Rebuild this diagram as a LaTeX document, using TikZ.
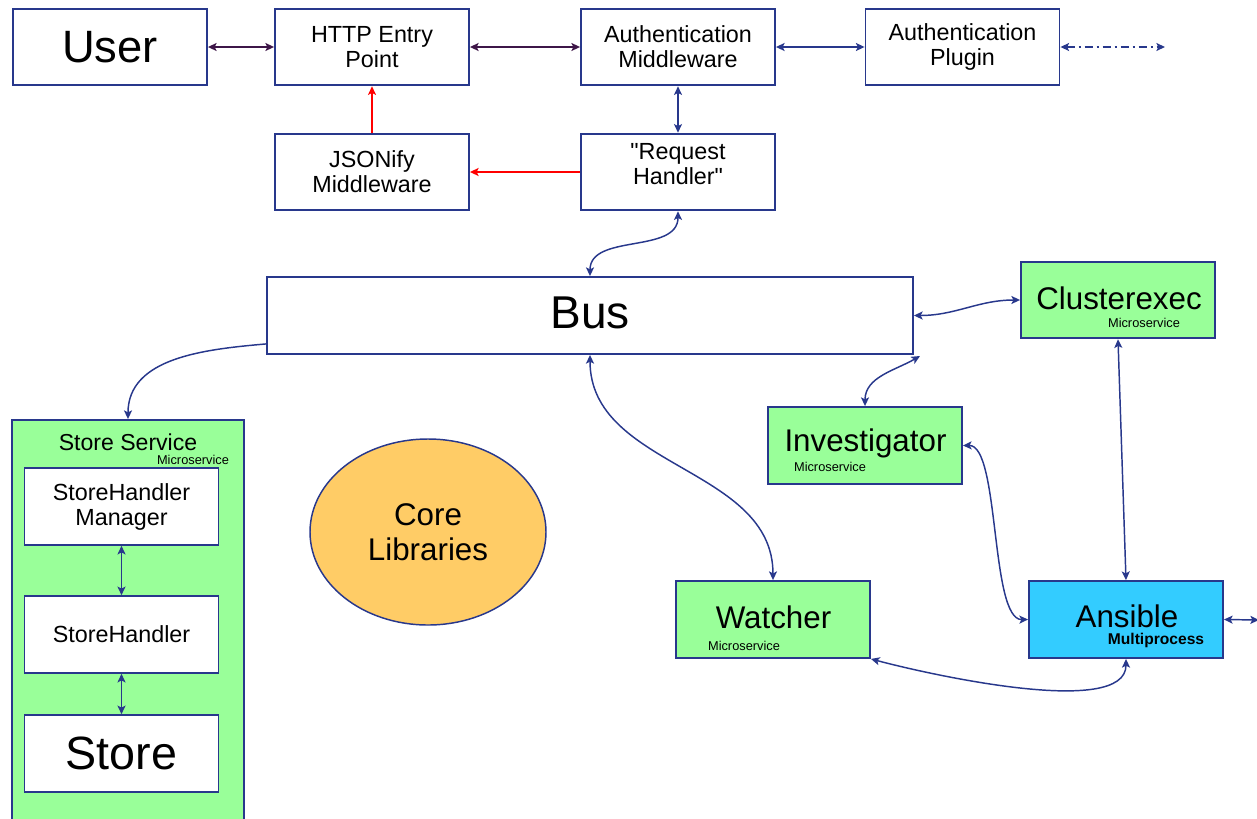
\documentclass[tikz,border=0pt]{standalone}
\usepackage{fontspec}
\setmainfont{Liberation Sans}[Ligatures=TeXOff]
\usetikzlibrary{arrows.meta,shapes.geometric,calc}
\definecolor{navy}{RGB}{40,56,140}
\definecolor{purp}{RGB}{62,22,72}
\definecolor{gfill}{RGB}{153,255,153}
\definecolor{cfill}{RGB}{51,204,255}
\definecolor{ofill}{RGB}{255,204,102}
\begin{document}
\begin{tikzpicture}[x=0.75pt,y=0.75pt,
  >={Stealth[length=6.5pt,width=6pt,inset=1.5pt]},
  box/.style={draw=navy,line width=1.4pt,fill=white,minimum width=145.5pt,minimum height=57.5pt,inner sep=0pt,align=center,font=\fontsize{17.5}{18.75}\selectfont},
  gbox/.style={box,fill=gfill,font=\fontsize{23.5}{28}\selectfont},
  micro/.style={inner sep=0pt,font=\fontsize{9.6}{11}\selectfont},
  conn/.style={navy,line width=1.1pt,<->},
  pconn/.style={purp,line width=1.1pt,<->},
  rconn/.style={red,line width=1.1pt,->},
  conn1/.style={navy,line width=1.1pt,->}]
\useasboundingbox (0,0) rectangle (1257,-818);
\clip (0,0) rectangle (1257,-818);
% top row
\node[box,font=\fontsize{34}{40}\selectfont] (user) at (110,-47) {User};
\node[box] (http) at (372,-47) {HTTP Entry\\Point};
\node[box] (amw) at (678,-47) {Authentication\\Middleware};
\node[box] (apl) at (962.5,-47) {Authentication\\Plugin};
\node[box] (json) at (372,-172) {JSONify\\Middleware};
\node[box] (rh) at (678,-172) {};
\node[inner sep=0pt,align=center,font=\fontsize{17.5}{18.75}\selectfont] (rht) at (678,-164) {"Request\\Handler"};
% bus
\node[box,minimum width=484.5pt,minimum height=57.75pt] (bus) at (590,-315.5) {};
\node[inner sep=0pt,font=\fontsize{34.5}{40}\selectfont] (bust) at (590,-313) {Bus};
% store service
\node[draw=navy,line width=1.4pt,fill=gfill,minimum width=174pt,minimum height=307.5pt,inner sep=0pt] (ss) at (128,-625) {};
\node[inner sep=0pt,font=\fontsize{17.3}{20}\selectfont] (sst) at (128,-442) {Store Service};
\node[micro] (ssm) at (193,-459.5) {Microservice};
\node[box] (shm) at (121.5,-506.5) {StoreHandler\\Manager};
\node[box] (sh) at (121.5,-634.5) {StoreHandler};
\node[box,font=\fontsize{35}{40}\selectfont] (store) at (121.5,-753.5) {Store};
% core
\node[ellipse,draw=navy,line width=1.1pt,fill=ofill,minimum width=177pt,minimum height=139.5pt,inner sep=0pt,align=center,font=\fontsize{23.5}{26}\selectfont] (core) at (428,-532) {Core\\Libraries};
% microservices
\node[gbox] (clex) at (1118,-300) {};
\node[inner sep=0pt,font=\fontsize{23.5}{28}\selectfont] (clext) at (1119,-298) {Clusterexec};
\node[micro] (clexm) at (1144,-323) {Microservice};
\node[gbox,minimum height=57.75pt] (inv) at (865,-445.5) {};
\node[inner sep=0pt,font=\fontsize{23.5}{28}\selectfont] (invt) at (865.5,-443) {Investigator};
\node[micro] (invm) at (830,-467) {Microservice};
\node[gbox,minimum height=57.75pt] (watch) at (773,-619.5) {};
\node[inner sep=0pt,font=\fontsize{23.5}{28}\selectfont] (watcht) at (773.5,-617) {Watcher};
\node[micro] (watchm) at (744,-646) {Microservice};
\node[gbox,fill=cfill,minimum height=57.75pt] (ans) at (1126,-619.5) {};
\node[inner sep=0pt,font=\fontsize{23.5}{28}\selectfont] (anst) at (1127,-616) {Ansible};
\node[inner sep=0pt,font=\bfseries\fontsize{11.7}{13}\selectfont] (ansm) at (1156,-640) {Multiprocess};
% connectors
\draw[pconn] (user.east) -- (http.west);
\draw[pconn] (http.east) -- (amw.west);
\draw[conn] (amw.east) -- (apl.west);
\coordinate (plout) at (1165,-47);
\draw[conn,dash pattern=on 6pt off 3pt on 1.5pt off 3pt] (apl.east) -- (plout);
\draw[conn] (amw.south) -- (rh.north);
\draw[rconn] (rh.west) -- (json.east);
\draw[rconn] (json.north) -- (http.south);
\draw[conn] (rh.south) to[out=-90,in=90] (bus.north);
\coordinate (bl) at ($(bus.south west)+(0,11)$);
\draw[conn1] (bl) to[out=185,in=90] (ss.north);
\draw[conn] (bus.east) to[out=0,in=180] (clex.west);
\coordinate (bc) at (920,-356);
\draw[conn] (bc) to[out=-150,in=90] (inv.north);
\draw[conn] (bus.south) to[out=-90,in=90] (watch.north);
\draw[conn] (inv.east) .. controls (1000,-445) and (990,-620) .. (ans.west);
\draw[conn] (clex.south) -- (ans.north);
\draw[conn] (watch.south east) to[out=-15,in=-90,looseness=0.6] (ans.south);
\coordinate (ain) at (1259,-620);
\draw[conn] (ans.east) -- (ain);
\draw[conn] (shm.south) -- (sh.north);
\draw[conn] (sh.south) -- (store.north);
\end{tikzpicture}
\end{document}
